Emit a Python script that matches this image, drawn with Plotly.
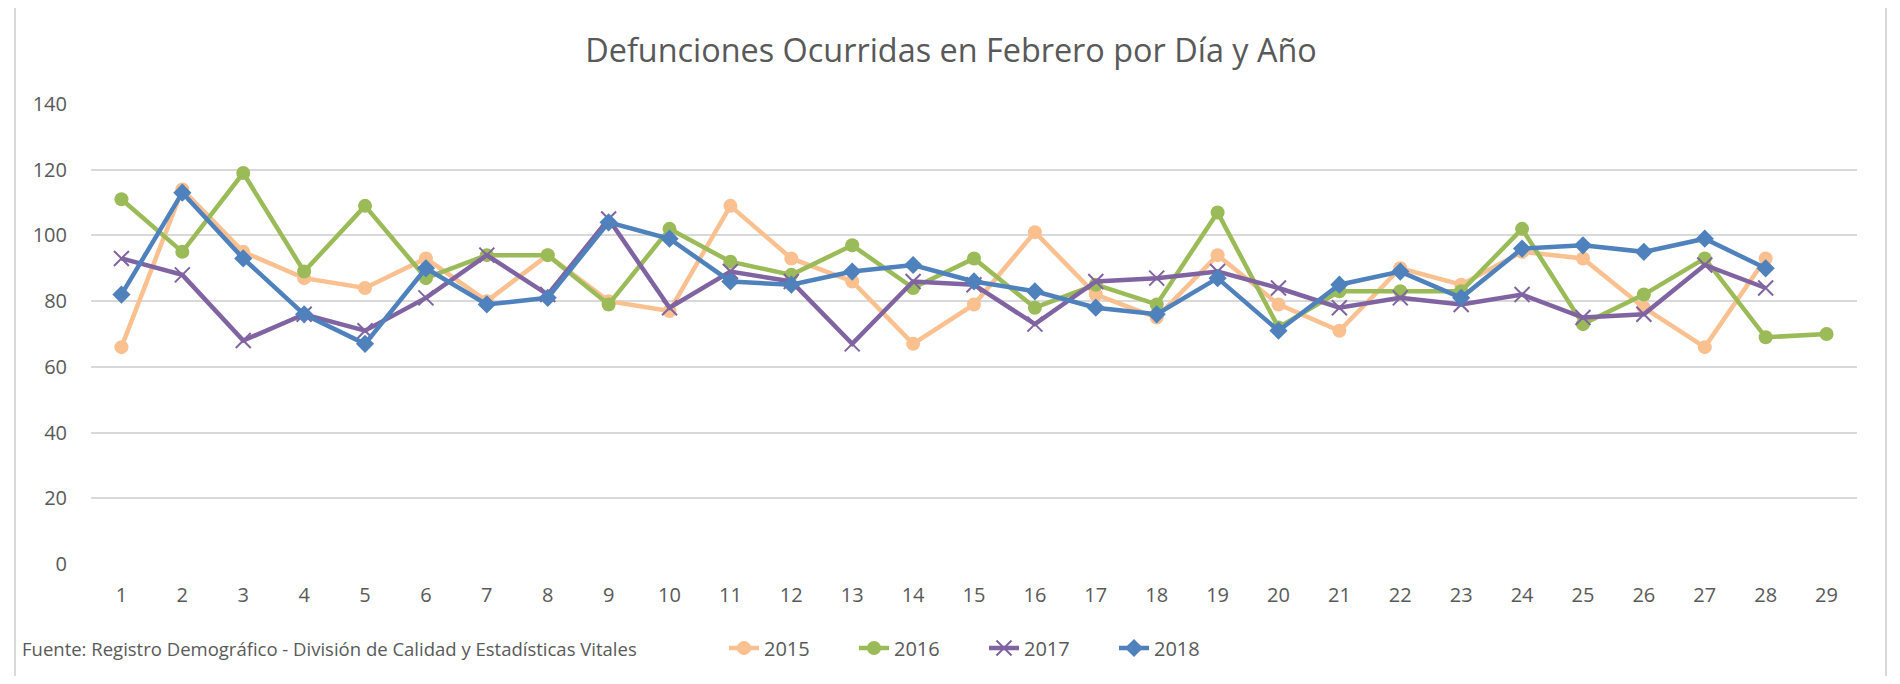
import plotly.graph_objects as go

days = [str(d) for d in range(1, 30)]
y2015 = [66, 114, 95, 87, 84, 93, 80, 94, 80, 77, 109, 93, 86, 67, 79, 101, 82, 75, 94, 79, 71, 90, 85, 95, 93, 78, 66, 93]
y2016 = [111, 95, 119, 89, 109, 87, 94, 94, 79, 102, 92, 88, 97, 84, 93, 78, 85, 79, 107, 72, 83, 83, 83, 102, 73, 82, 93, 69, 70]
y2017 = [93, 88, 68, 76, 71, 81, 94, 82, 105, 78, 89, 86, 67, 86, 85, 73, 86, 87, 89, 84, 78, 81, 79, 82, 75, 76, 91, 84]
y2018 = [82, 113, 93, 76, 67, 90, 79, 81, 104, 99, 86, 85, 89, 91, 86, 83, 78, 76, 87, 71, 85, 89, 81, 96, 97, 95, 99, 90]
series_names = ["2015", "2016", "2017", "2018"]
title_text = "Defunciones Ocurridas en Febrero por Día y Año"
source_text = "Fuente: Registro Demográfico - División de Calidad y Estadísticas Vitales"

FONT = "Open Sans"
TXT = "#595959"

# page has an 8px body margin; figure coordinates = page coordinates - 8
OFF = 8
W, H = 1884, 668
L, R, T, B = 91 - OFF, 35, 104 - OFF, 112
PW, PH = W - L - R, H - T - B


def px_x(p):
    return (p - OFF - L) / PW


def px_y(p):
    return (H - B - (p - OFF)) / PH


def cx(p):
    return (p - OFF) / W


def cy(p):
    return 1 - (p - OFF) / H


fig = go.Figure()
x_idx = list(range(1, 30))

fig.add_trace(go.Scatter(
    x=x_idx[:len(y2015)], y=y2015, name=series_names[0], mode="lines+markers",
    line=dict(color="#FAC090", width=4.5),
    marker=dict(symbol="circle", size=14, color="#FAC090")))
fig.add_trace(go.Scatter(
    x=x_idx[:len(y2016)], y=y2016, name=series_names[1], mode="lines+markers",
    line=dict(color="#9BBB59", width=4.5),
    marker=dict(symbol="circle", size=14, color="#9BBB59")))
fig.add_trace(go.Scatter(
    x=x_idx[:len(y2017)], y=y2017, name=series_names[2], mode="lines+markers",
    line=dict(color="#8064A2", width=4.5),
    marker=dict(symbol="x-thin", size=15, color="#8064A2",
                line=dict(color="#8064A2", width=2))))
fig.add_trace(go.Scatter(
    x=x_idx[:len(y2018)], y=y2018, name=series_names[3], mode="lines+markers",
    line=dict(color="#4F81BD", width=4.5),
    marker=dict(symbol="diamond", size=14, color="#4F81BD")))

fig.update_layout(
    width=W, height=H,
    margin=dict(l=L, r=R, t=T, b=B, autoexpand=False),
    paper_bgcolor="white", plot_bgcolor="white",
    font=dict(family=FONT, color=TXT, size=20),
    title=dict(text=title_text, x=cx(951), xanchor="center", xref="container",
               y=cy(51), yanchor="middle", yref="container",
               font=dict(family=FONT, size=32.4, color=TXT)),
    xaxis=dict(range=[0.5, 29.5], tickmode="array", tickvals=x_idx, ticktext=days,
               showgrid=False, zeroline=False, showline=False, ticks="",
               tickfont=dict(size=20, color=TXT), ticklabelstandoff=17),
    yaxis=dict(range=[0, 140], dtick=20, showgrid=True, gridcolor="#D9D9D9",
               gridwidth=1.5, zeroline=False, showline=False, ticks="",
               tickfont=dict(size=20, color=TXT), ticklabelstandoff=23),
    legend=dict(orientation="h", x=cx(724), xanchor="left", xref="container",
                y=cy(648), yanchor="middle", yref="container",
                font=dict(size=20, color=TXT),
                entrywidth=85, entrywidthmode="pixels",
                bgcolor="rgba(0,0,0,0)"),
    showlegend=True,
)

fig.add_annotation(text=source_text, xref="paper", yref="paper",
                   x=px_x(20), y=px_y(648), xanchor="left", yanchor="middle",
                   showarrow=False, font=dict(size=18.5, color=TXT, family=FONT))

fig.add_shape(type="rect", xref="paper", yref="paper",
              x0=px_x(15), x1=px_x(1886), y0=px_y(700), y1=px_y(5),
              line=dict(color="#D9D9D9", width=2), fillcolor="rgba(0,0,0,0)",
              layer="below")

fig.write_html("out.html")
